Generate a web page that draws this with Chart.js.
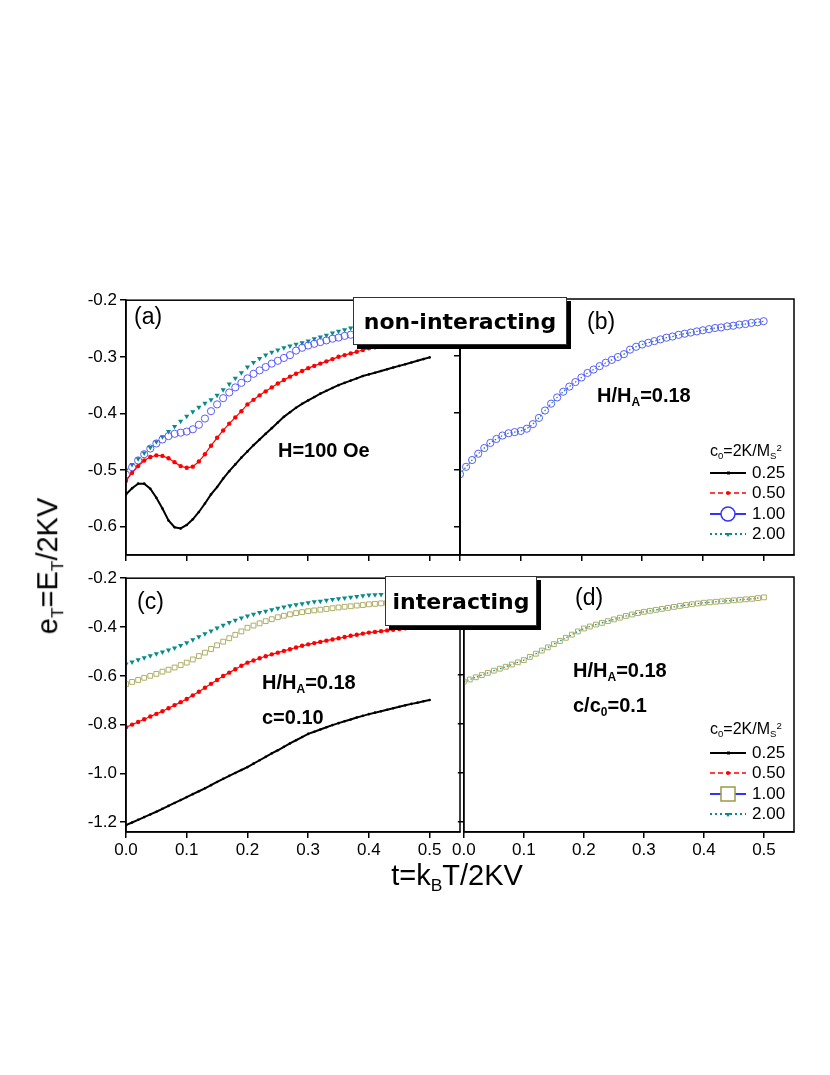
<!DOCTYPE html>
<html><head><meta charset="utf-8">
<script src="https://cdn.jsdelivr.net/npm/chart.js@4/dist/chart.umd.min.js"></script>
<style>
body{margin:0;width:830px;height:1075px;background:#fff;position:relative;overflow:hidden;font-family:"Liberation Sans",Arial,sans-serif}
canvas.p{position:absolute}
.t{position:absolute;white-space:nowrap;color:#000;line-height:1}
.b{font-weight:bold;font-size:20px}
.pl{font-size:23px}
.box{position:absolute;background:#fff;border:1.5px solid #333;box-shadow:4px 4px 0 #000;font-family:"DejaVu Sans",sans-serif;font-weight:bold;font-size:22px;display:flex;align-items:center;justify-content:center;box-sizing:border-box}
.lg{font-size:16px}
sub{font-size:60%;vertical-align:-0.35em}
sup{font-size:60%;vertical-align:0.5em}
</style></head><body>
<script>
// ---- data (t = 0 .. 0.5, step 0.01) ----
const tVals = Array.from({length:51},(_,i)=>+(i*0.01).toFixed(2));
const a_025 = [-.543,-.532,-.524,-.524,-.533,-.549,-.568,-.589,-.601,-.603,-.597,-.587,-.574,-.559,-.543,-.530,-.515,-.502,-.490,-.478,-.467,-.456,-.446,-.436,-.426,-.416,-.406,-.398,-.390,-.383,-.377,-.371,-.365,-.360,-.355,-.350,-.346,-.342,-.338,-.334,-.331,-.328,-.325,-.322,-.319,-.316,-.313,-.310,-.307,-.304,-.301];
const a_050 = [-.519,-.505,-.493,-.483,-.477,-.474,-.475,-.479,-.486,-.493,-.496,-.494,-.485,-.472,-.457,-.443,-.430,-.418,-.407,-.396,-.384,-.376,-.368,-.361,-.354,-.347,-.341,-.335,-.330,-.325,-.320,-.316,-.312,-.308,-.304,-.300,-.297,-.294,-.291,-.288,-.285,-.283,-.281,-.279,-.277,-.275,-.273,-.271,-.269,-.267,-.265];
const a_100 = [-.508,-.495,-.483,-.472,-.462,-.453,-.446,-.440,-.436,-.434,-.432,-.428,-.420,-.409,-.396,-.384,-.373,-.363,-.354,-.346,-.338,-.330,-.324,-.318,-.312,-.307,-.302,-.297,-.289,-.284,-.280,-.277,-.274,-.271,-.268,-.266,-.263,-.261,-.259,-.257,-.255,-.253,-.251,-.250,-.248,-.247,-.245,-.244,-.242,-.241,-.239];
const a_200 = [-.500,-.490,-.480,-.470,-.460,-.450,-.441,-.432,-.423,-.414,-.405,-.397,-.389,-.382,-.376,-.368,-.358,-.348,-.338,-.328,-.318,-.310,-.303,-.297,-.292,-.288,-.284,-.281,-.278,-.275,-.272,-.268,-.265,-.262,-.258,-.255,-.252,-.249,-.247,-.245,-.243,-.241,-.239,-.238,-.236,-.235,-.234,-.233,-.232,-.231,-.230];
const b_018 = a_100;
const c_025 = [-1.212,-1.201,-1.190,-1.179,-1.168,-1.157,-1.145,-1.133,-1.121,-1.109,-1.097,-1.085,-1.073,-1.061,-1.048,-1.035,-1.022,-1.010,-.998,-.986,-.974,-.960,-.946,-.932,-.918,-.905,-.891,-.877,-.864,-.851,-.838,-.829,-.820,-.811,-.802,-.794,-.786,-.779,-.771,-.764,-.757,-.751,-.745,-.739,-.733,-.727,-.721,-.715,-.710,-.704,-.699];
const c_050 = [-.811,-.800,-.789,-.778,-.767,-.756,-.745,-.733,-.720,-.708,-.695,-.680,-.665,-.649,-.633,-.617,-.601,-.587,-.573,-.559,-.546,-.537,-.528,-.520,-.512,-.505,-.498,-.491,-.484,-.477,-.471,-.466,-.461,-.456,-.451,-.446,-.441,-.436,-.432,-.427,-.423,-.420,-.417,-.414,-.411,-.408,-.405,-.403,-.400,-.398,-.395];
const c_100 = [-.634,-.625,-.617,-.608,-.600,-.592,-.583,-.575,-.566,-.556,-.546,-.533,-.519,-.505,-.490,-.475,-.460,-.446,-.432,-.418,-.403,-.394,-.385,-.376,-.368,-.360,-.354,-.348,-.343,-.339,-.335,-.332,-.329,-.326,-.323,-.320,-.317,-.315,-.312,-.310,-.307,-.305,-.303,-.301,-.300,-.298,-.296,-.295,-.293,-.292,-.290];
const c_200 = [-.552,-.543,-.534,-.526,-.518,-.510,-.502,-.494,-.486,-.476,-.464,-.452,-.440,-.428,-.416,-.404,-.393,-.382,-.372,-.363,-.355,-.348,-.341,-.335,-.329,-.323,-.318,-.313,-.309,-.305,-.301,-.297,-.294,-.290,-.287,-.284,-.281,-.278,-.275,-.272,-.269,-.268,-.267,-.266,-.265,-.264,-.263,-.262,-.261,-.260,-.259];
const d_01 = [-.627,-.618,-.609,-.600,-.591,-.582,-.574,-.566,-.557,-.548,-.539,-.526,-.513,-.500,-.487,-.474,-.461,-.448,-.435,-.422,-.410,-.402,-.394,-.387,-.380,-.373,-.366,-.359,-.353,-.347,-.342,-.338,-.334,-.330,-.326,-.322,-.318,-.314,-.311,-.308,-.305,-.303,-.301,-.299,-.297,-.295,-.293,-.291,-.289,-.286,-.283];
const xTicks = [0,0.1,0.2,0.3,0.4,0.5];
const yTicksTop = [-0.2,-0.3,-0.4,-0.5,-0.6];
const yTicksBot = [-0.2,-0.4,-0.6,-0.8,-1.0,-1.2];
const legendTitle = 'c<sub>0</sub>=2K/M<sub>S</sub><sup>2</sup>';
const legendLabels = ['0.25','0.50','1.00','2.00'];

const pts = v => v.map((y,i)=>({x:tVals[i],y}));
const S = {
  black:v=>({data:pts(v),borderColor:'#000',backgroundColor:'#000',borderWidth:2,pointRadius:1.3,pointBorderWidth:0}),
  red:v=>({data:pts(v),borderColor:'#ff0000',backgroundColor:'#ff0000',borderWidth:1.2,pointRadius:2.2,pointBorderWidth:0}),
  blue:v=>({data:pts(v),showLine:false,pointStyle:'circle',pointRadius:3.6,borderColor:'#5a5aff',backgroundColor:'rgba(0,0,0,0)',pointBorderWidth:1}),
  teal:v=>({data:pts(v),showLine:false,pointStyle:'triangle',rotation:180,pointRadius:3,borderColor:'#0a8a8a',backgroundColor:'#0a8a8a',pointBorderWidth:0}),
  tealdot:v=>({data:pts(v),borderColor:'#0a8a8a',borderWidth:1.2,borderDash:[1.5,2],pointRadius:0}),
  olive:v=>({data:pts(v),showLine:false,pointStyle:'rect',pointRadius:3.4,borderColor:'#aeae66',backgroundColor:'rgba(0,0,0,0)',pointBorderWidth:1})
};

const frame = {id:'frame',afterDraw(c){const a=c.chartArea,x=c.ctx;x.save();x.strokeStyle='#000';x.lineWidth=1.5;x.strokeRect(a.left,a.top,a.right-a.left,a.bottom-a.top);x.restore();}};

function panel(L,T,W,H,o){
  const yW=o.showY?52:0, xH=o.showX?30:8, pl=10,pt=12,pr=12,pb=6;
  const cv=document.createElement('canvas');cv.className='p';
  const cw=W+yW+pl+pr, ch=H+pt+xH+pb;
  cv.width=cw;cv.height=ch;cv.style.left=(L-yW-pl)+'px';cv.style.top=(T-pt)+'px';cv.style.width=cw+'px';cv.style.height=ch+'px';
  document.body.appendChild(cv);
  const tickFont={family:'Liberation Sans',size:17};
  new Chart(cv,{type:'line',data:{datasets:o.datasets},plugins:[frame],options:{
    responsive:false,animation:false,devicePixelRatio:1,
    layout:{padding:{left:pl,top:pt,right:pr,bottom:pb}},
    plugins:{legend:{display:false},tooltip:{enabled:false}},
    scales:{
      x:{type:'linear',min:0,max:0.55,afterBuildTicks:a=>{a.ticks=xTicks.map(v=>({value:v}));},afterFit:a=>{a.height=xH;},
        grid:{drawOnChartArea:false,tickLength:6,color:'#000',lineWidth:1.5},border:{color:'#000',width:1.5},
        ticks:{display:o.showX,color:'#000',font:tickFont,maxRotation:0,autoSkip:false,padding:2,callback:v=>v.toFixed(1)}},
      y:{type:'linear',min:o.ymin,max:o.ymax,afterBuildTicks:a=>{a.ticks=o.yt.map(v=>({value:v}));},afterFit:a=>{a.width=yW;},
        grid:{drawOnChartArea:false,tickLength:6,color:'#000',lineWidth:1.5},border:{color:'#000',width:1.5},
        ticks:{display:o.showY,color:'#000',font:tickFont,autoSkip:false,padding:3,callback:v=>v.toFixed(1)}}
    }}});
}

panel(126,299,334,256,{ymin:-0.65,ymax:-0.2,yt:yTicksTop,showY:true,showX:false,
  datasets:[S.black(a_025),S.red(a_050),S.blue(a_100),S.teal(a_200)]});
panel(460,299,334,256,{ymin:-0.65,ymax:-0.2,yt:yTicksTop,showY:false,showX:false,
  datasets:[S.blue(b_018),S.tealdot(b_018)]});
panel(126,577,334,255,{ymin:-1.24,ymax:-0.2,yt:yTicksBot,showY:true,showX:true,
  datasets:[S.black(c_025),S.red(c_050),S.olive(c_100),S.teal(c_200)]});
panel(460,577,334,255,{ymin:-1.24,ymax:-0.2,yt:yTicksBot,showY:false,showX:true,
  datasets:[S.olive(d_01),S.tealdot(d_01)]});

function txt(html,x,y,cls,extra){const d=document.createElement('div');d.className='t '+(cls||'');d.innerHTML=html;d.style.left=x+'px';d.style.top=y+'px';if(extra)d.style.cssText+=extra;document.body.appendChild(d);return d;}
txt('(a)',134,305,'pl');txt('(b)',587,310,'pl');txt('(c)',137,590,'pl');txt('(d)',575,586,'pl');
txt('H=100 Oe',278,440,'b');
txt('H/H<sub>A</sub>=0.18',597,385,'b');
txt('H/H<sub>A</sub>=0.18',262,672,'b');txt('c=0.10',262,707,'b');
txt('H/H<sub>A</sub>=0.18',573,660,'b');txt('c/c<sub>0</sub>=0.1',573,695,'b');
function box(t,l,tp,w,h){const d=document.createElement('div');d.className='box';d.textContent=t;d.style.left=l+'px';d.style.top=tp+'px';d.style.width=w+'px';d.style.height=h+'px';document.body.appendChild(d);}
box('non-interacting',353,297,214,48);
box('interacting',385,576,152,50);
txt('e<sub>T</sub>=E<sub>T</sub>/2KV',50,566,'', 'font-size:29px;transform:translate(-50%,-50%) rotate(-90deg);');
txt('t=k<sub>B</sub>T/2KV',457,878,'', 'font-size:29px;transform:translate(-50%,-50%);');

const lc=document.createElement('canvas');lc.width=830;lc.height=1075;lc.style.cssText='position:absolute;left:0;top:0;pointer-events:none';document.body.appendChild(lc);
const g=lc.getContext('2d');
function legend(ty,rows,sq){
  txt(legendTitle,710,ty-9,'lg');
  const sty=[['#000',[],2],['#ff0000',[5,3],1.5],['#3333ff',[],2],['#0a8a8a',[2,3],2]];
  rows.forEach((y,i)=>{
    g.save();g.strokeStyle=sty[i][0];g.lineWidth=sty[i][2];g.setLineDash(sty[i][1]);
    g.beginPath();g.moveTo(710,y);g.lineTo(746,y);g.stroke();g.setLineDash([]);
    if(i===0){g.fillStyle='#000';g.fillRect(727,y-1.5,3,3);}
    if(i===1){g.fillStyle='#f00';g.beginPath();g.arc(728,y,2,0,7);g.fill();}
    if(i===2){g.fillStyle='#fff';g.lineWidth=1.5;
      if(sq){g.strokeStyle='#9a9a44';g.fillRect(721,y-7,14,14);g.strokeRect(721,y-7,14,14);}
      else{g.strokeStyle='#3333ff';g.beginPath();g.arc(728,y,7,0,7);g.fill();g.stroke();}}
    if(i===3){g.fillStyle='#0a8a8a';g.beginPath();g.moveTo(725,y-1);g.lineTo(731,y-1);g.lineTo(728,y+3);g.fill();}
    g.restore();
    txt(legendLabels[i],752,y-9,'lg','font-size:17px;');
  });
}
legend(452,[473,493,514,534],false);
legend(730,[753,773,794,814],true);
</script>
</body></html>
